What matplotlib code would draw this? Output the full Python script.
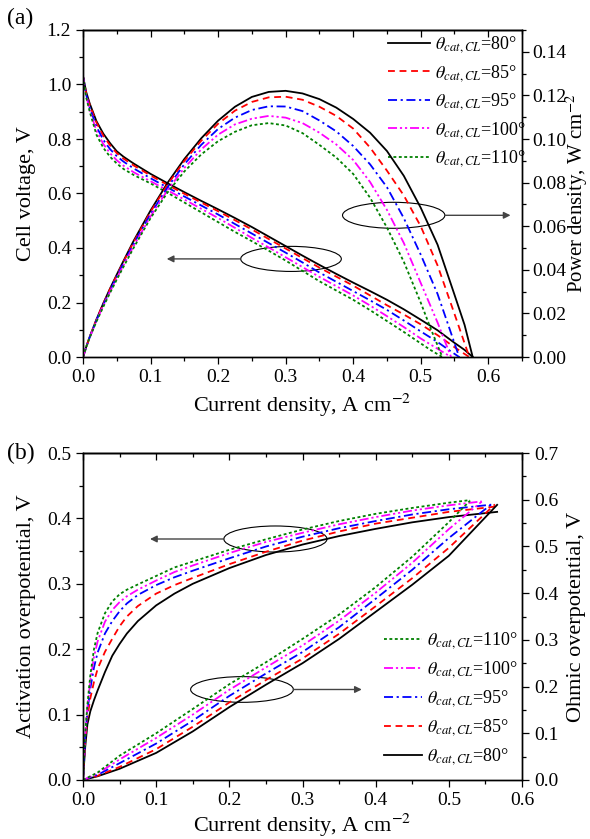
import matplotlib
matplotlib.use('Agg')
import matplotlib.pyplot as plt
from matplotlib.patches import Ellipse
from matplotlib.ticker import MultipleLocator, FormatStrFormatter

plt.rcParams['font.family'] = ['Liberation Serif', 'DejaVu Serif']
plt.rcParams['mathtext.fontset'] = 'stix'
plt.rcParams['axes.linewidth'] = 1.0

# ---------------- panel (a): polarization and power curves ----------------
angles = ['80', '85', '95', '100', '110']

i_a_80 = [0, 0.005, 0.01, 0.02, 0.03, 0.04, 0.05, 0.06, 0.075, 0.1, 0.125, 0.15, 0.175, 0.2, 0.225, 0.25, 0.275, 0.3,
          0.325, 0.35, 0.375, 0.4, 0.425, 0.45, 0.475, 0.5, 0.525, 0.55, 0.565, 0.577]
i_a_85 = [0, 0.005, 0.01, 0.02, 0.03, 0.04, 0.05, 0.06, 0.075, 0.1, 0.125, 0.15, 0.175, 0.2, 0.225, 0.25, 0.275, 0.3,
          0.325, 0.35, 0.375, 0.4, 0.425, 0.45, 0.475, 0.5, 0.525, 0.55, 0.562, 0.572]
i_a_95 = [0, 0.005, 0.01, 0.02, 0.03, 0.04, 0.05, 0.06, 0.075, 0.1, 0.125, 0.15, 0.175, 0.2, 0.225, 0.25, 0.275, 0.3,
          0.325, 0.35, 0.375, 0.4, 0.425, 0.45, 0.475, 0.5, 0.525, 0.545, 0.557]
i_a_100 = [0, 0.005, 0.01, 0.02, 0.03, 0.04, 0.05, 0.06, 0.075, 0.1, 0.125, 0.15, 0.175, 0.2, 0.225, 0.25, 0.275, 0.3,
           0.325, 0.35, 0.375, 0.4, 0.425, 0.45, 0.475, 0.5, 0.525, 0.545]
i_a_110 = [0, 0.005, 0.01, 0.02, 0.03, 0.04, 0.05, 0.06, 0.075, 0.1, 0.125, 0.15, 0.175, 0.2, 0.225, 0.25, 0.275, 0.3,
           0.325, 0.35, 0.375, 0.4, 0.425, 0.45, 0.475, 0.5, 0.515, 0.532]

v_80 = [1.03, 0.97, 0.93, 0.865, 0.82, 0.785, 0.755, 0.735, 0.71, 0.672, 0.638, 0.605, 0.573, 0.542, 0.51, 0.477, 0.442,
        0.407, 0.372, 0.338, 0.305, 0.273, 0.242, 0.210, 0.175, 0.137, 0.098, 0.052, 0.026, 0.0]
v_85 = [1.03, 0.965, 0.925, 0.86, 0.812, 0.777, 0.748, 0.728, 0.703, 0.666, 0.632, 0.599, 0.567, 0.535, 0.502, 0.468,
        0.433, 0.398, 0.363, 0.328, 0.295, 0.262, 0.226, 0.19, 0.156, 0.12, 0.08, 0.036, 0.016, 0.0]
v_95 = [1.03, 0.96, 0.915, 0.845, 0.797, 0.763, 0.737, 0.717, 0.692, 0.656, 0.622, 0.589, 0.556, 0.523, 0.488, 0.453,
        0.418, 0.383, 0.347, 0.31, 0.276, 0.242, 0.208, 0.173, 0.134, 0.094, 0.055, 0.02, 0.0]
v_100 = [1.03, 0.955, 0.905, 0.83, 0.782, 0.748, 0.722, 0.702, 0.678, 0.645, 0.612, 0.578, 0.544, 0.51, 0.474, 0.437,
         0.402, 0.366, 0.33, 0.294, 0.26, 0.226, 0.189, 0.15, 0.11, 0.068, 0.03, 0.0]
v_110 = [1.03, 0.95, 0.90, 0.815, 0.768, 0.735, 0.71, 0.69, 0.668, 0.637, 0.603, 0.567, 0.531, 0.495, 0.459, 0.425,
         0.39, 0.354, 0.316, 0.278, 0.244, 0.21, 0.172, 0.132, 0.092, 0.05, 0.025, 0.0]

p_80 = [0, 0.00485, 0.0093, 0.0173, 0.0246, 0.0314, 0.0378, 0.0441, 0.0533, 0.0672, 0.0798, 0.0908, 0.1003, 0.1084,
        0.1148, 0.1193, 0.1216, 0.1221, 0.1209, 0.1183, 0.1144, 0.1092, 0.1029, 0.0945, 0.0831, 0.0685, 0.0515, 0.0286,
        0.0147, 0]
p_85 = [0, 0.00483, 0.00925, 0.0172, 0.0244, 0.0311, 0.0374, 0.0437, 0.0527, 0.0666, 0.079, 0.0899, 0.0992, 0.107,
        0.113, 0.117, 0.1191, 0.1194, 0.118, 0.1148, 0.1106, 0.1048, 0.0961, 0.0855, 0.0741, 0.06, 0.042, 0.0198,
        0.009, 0]
p_95 = [0, 0.0048, 0.00915, 0.0169, 0.0239, 0.0305, 0.0369, 0.043, 0.0519, 0.0656, 0.0778, 0.0884, 0.0973, 0.1046,
        0.1098, 0.1133, 0.115, 0.1149, 0.1128, 0.1085, 0.1035, 0.0968, 0.0884, 0.0779, 0.0637, 0.047, 0.0289, 0.0109, 0]
p_100 = [0, 0.00478, 0.00905, 0.0166, 0.0235, 0.0299, 0.0361, 0.0421, 0.0509, 0.0645, 0.0765, 0.0867, 0.0952, 0.102,
         0.1067, 0.1093, 0.1106, 0.1098, 0.1073, 0.1029, 0.0975, 0.0904, 0.0803, 0.0675, 0.0523, 0.034, 0.0158, 0]
p_110 = [0, 0.00475, 0.009, 0.0163, 0.023, 0.0294, 0.0355, 0.0414, 0.0501, 0.0637, 0.0754, 0.0851, 0.0929, 0.099,
         0.1033, 0.1063, 0.1073, 0.1062, 0.1027, 0.0973, 0.0915, 0.084, 0.0731, 0.0594, 0.0437, 0.025, 0.0129, 0]

# ---------------- panel (b): activation and ohmic overpotentials ----------------
i_b_80 = [0, 0.003, 0.006, 0.01, 0.015, 0.02, 0.03, 0.04, 0.05, 0.06, 0.075, 0.1, 0.125, 0.15, 0.2, 0.25, 0.3, 0.35, 0.4, 0.45, 0.5, 0.566]
i_b_85 = [0, 0.003, 0.006, 0.01, 0.015, 0.02, 0.03, 0.04, 0.05, 0.06, 0.075, 0.1, 0.125, 0.15, 0.2, 0.25, 0.3, 0.35, 0.4, 0.45, 0.5, 0.563]
i_b_95 = [0, 0.003, 0.006, 0.01, 0.015, 0.02, 0.03, 0.04, 0.05, 0.06, 0.075, 0.1, 0.125, 0.15, 0.2, 0.25, 0.3, 0.35, 0.4, 0.45, 0.5, 0.558]
i_b_100 = [0, 0.003, 0.006, 0.01, 0.015, 0.02, 0.03, 0.04, 0.05, 0.06, 0.075, 0.1, 0.125, 0.15, 0.2, 0.25, 0.3, 0.35, 0.4, 0.45, 0.5, 0.545]
i_b_110 = [0, 0.003, 0.006, 0.01, 0.015, 0.02, 0.03, 0.04, 0.05, 0.06, 0.075, 0.1, 0.125, 0.15, 0.2, 0.25, 0.3, 0.35, 0.4, 0.45, 0.5, 0.529]

act_80 = [0, 0.05, 0.085, 0.105, 0.122, 0.137, 0.165, 0.19, 0.208, 0.224, 0.243, 0.267, 0.285, 0.3, 0.324, 0.344, 0.36, 0.373, 0.384, 0.394, 0.402, 0.41]
act_85 = [0, 0.06, 0.095, 0.125, 0.15, 0.17, 0.196, 0.216, 0.235, 0.25, 0.266, 0.285, 0.298, 0.309, 0.33, 0.349, 0.366, 0.38, 0.392, 0.401, 0.41, 0.418]
act_95 = [0, 0.065, 0.105, 0.14, 0.172, 0.195, 0.224, 0.243, 0.258, 0.27, 0.283, 0.298, 0.31, 0.32, 0.339, 0.357, 0.372, 0.385, 0.396, 0.406, 0.414, 0.421]
act_100 = [0, 0.068, 0.11, 0.152, 0.188, 0.212, 0.242, 0.26, 0.272, 0.281, 0.291, 0.305, 0.318, 0.328, 0.347, 0.364, 0.378, 0.391, 0.402, 0.412, 0.42, 0.426]
act_110 = [0, 0.07, 0.115, 0.16, 0.2, 0.225, 0.255, 0.273, 0.284, 0.291, 0.299, 0.312, 0.325, 0.334, 0.352, 0.368, 0.383, 0.396, 0.407, 0.416, 0.424, 0.428]

io_80 = [0, 0.02, 0.05, 0.1, 0.15, 0.2, 0.25, 0.3, 0.35, 0.4, 0.45, 0.5, 0.566]
io_85 = [0, 0.02, 0.05, 0.1, 0.15, 0.2, 0.25, 0.3, 0.35, 0.4, 0.45, 0.5, 0.563]
io_95 = [0, 0.02, 0.05, 0.1, 0.15, 0.2, 0.25, 0.3, 0.35, 0.4, 0.45, 0.5, 0.558]
io_100 = [0, 0.02, 0.05, 0.1, 0.15, 0.2, 0.25, 0.3, 0.35, 0.4, 0.45, 0.5, 0.545]
io_110 = [0, 0.02, 0.05, 0.1, 0.15, 0.2, 0.25, 0.3, 0.35, 0.4, 0.45, 0.5, 0.529]

ohm_80 = [0, 0.008, 0.024, 0.058, 0.104, 0.156, 0.204, 0.25, 0.302, 0.36, 0.418, 0.48, 0.589]
ohm_85 = [0, 0.009, 0.028, 0.066, 0.114, 0.166, 0.214, 0.26, 0.313, 0.372, 0.432, 0.497, 0.59]
ohm_95 = [0, 0.011, 0.036, 0.078, 0.127, 0.18, 0.228, 0.274, 0.327, 0.388, 0.45, 0.518, 0.59]
ohm_100 = [0, 0.014, 0.044, 0.09, 0.14, 0.193, 0.241, 0.288, 0.341, 0.401, 0.465, 0.537, 0.596]
ohm_110 = [0, 0.016, 0.052, 0.1, 0.152, 0.205, 0.252, 0.302, 0.354, 0.413, 0.478, 0.552, 0.598]

colors = {'80': 'black', '85': '#ff0000', '95': '#0000ff', '100': '#ff00ff', '110': '#008000'}
dashes = {'80': '-', '85': (0, (3.8, 2.6)), '95': (0, (5, 2, 1.2, 2)),
          '100': (0, (5, 1.6, 1.2, 1.6, 1.2, 1.6)), '110': (0, (1.6, 1.4))}
LW = 1.3

pol = {'80': (i_a_80, v_80, p_80), '85': (i_a_85, v_85, p_85), '95': (i_a_95, v_95, p_95),
       '100': (i_a_100, v_100, p_100), '110': (i_a_110, v_110, p_110)}
over = {'80': (i_b_80, act_80, io_80, ohm_80), '85': (i_b_85, act_85, io_85, ohm_85),
        '95': (i_b_95, act_95, io_95, ohm_95), '100': (i_b_100, act_100, io_100, ohm_100),
        '110': (i_b_110, act_110, io_110, ohm_110)}


def lab(a):
    return r'$\theta_{cat,CL}$=' + a + '\u00b0'


def style_axes(ax, ax2, rpad=3.5):
    ax.tick_params(which='both', direction='out', labelsize=14, top=False, right=False)
    ax.tick_params(which='major', length=5, width=0.9)
    ax.tick_params(which='minor', length=3, width=0.9)
    ax2.tick_params(which='both', direction='out', labelsize=14, pad=rpad)
    ax2.tick_params(which='major', length=5, width=0.9)
    ax2.tick_params(which='minor', length=3, width=0.9)
    sec = ax.secondary_xaxis('top')
    sec.xaxis.set_major_locator(MultipleLocator(0.1))
    sec.xaxis.set_minor_locator(MultipleLocator(0.05))
    sec.tick_params(which='both', direction='in', labeltop=False)
    sec.tick_params(which='major', length=5, width=0.9)
    sec.tick_params(which='minor', length=3, width=0.9)


def arrow(ax, x0, x1, y):
    ax.annotate('', xy=(x1, y), xytext=(x0, y),
                arrowprops=dict(arrowstyle='-|>', color='#444444', lw=1.0,
                                shrinkA=0, shrinkB=0, mutation_scale=10))


fig = plt.figure(figsize=(5.9, 8.39), dpi=100)

# ---- (a)
ax1 = fig.add_axes([83 / 590, 1 - 357 / 839, 439 / 590, 327 / 839])
ax2 = ax1.twinx()
handles = {}
for a in angles:
    i, v, p = pol[a]
    handles[a], = ax1.plot(i, v, color=colors[a], ls=dashes[a], lw=LW)
    ax2.plot(i, p, color=colors[a], ls=dashes[a], lw=LW)

ax1.set_xlim(0, 0.65)
ax1.set_ylim(0, 1.2)
ax2.set_ylim(0, 0.15)
ax1.xaxis.set_major_locator(MultipleLocator(0.1))
ax1.xaxis.set_minor_locator(MultipleLocator(0.05))
ax1.yaxis.set_major_locator(MultipleLocator(0.2))
ax1.yaxis.set_minor_locator(MultipleLocator(0.1))
ax2.yaxis.set_major_locator(MultipleLocator(0.02))
ax2.yaxis.set_minor_locator(MultipleLocator(0.01))
ax1.xaxis.set_major_formatter(FormatStrFormatter('%.1f'))
ax1.yaxis.set_major_formatter(FormatStrFormatter('%.1f'))
ax2.yaxis.set_major_formatter(FormatStrFormatter('%.2f'))
style_axes(ax1, ax2, rpad=2.5)
ax1.set_xlabel(r'Current density, A cm$^{-2}$', fontsize=16, labelpad=4)
ax1.set_ylabel('Cell voltage, V', fontsize=16, labelpad=8)
ax2.set_ylabel(r'Power density, W cm$^{-2}$', fontsize=15, labelpad=-2.5)

ax1.add_patch(Ellipse((0.308, 0.36), 0.149, 0.092, fill=False, ec='black', lw=0.8))
arrow(ax1, 0.2335, 0.124, 0.36)
ax1.add_patch(Ellipse((0.460, 0.52), 0.1515, 0.0954, fill=False, ec='black', lw=0.8))
arrow(ax1, 0.5357, 0.633, 0.52)

ax1.legend([handles[a] for a in angles], [lab(a) for a in angles], loc='upper right',
           bbox_to_anchor=(1.034, 1.02), frameon=False, fontsize=13, handlelength=2.3,
           handletextpad=0.3, labelspacing=0.42, borderaxespad=0.2)

# ---- (b)
ax3 = fig.add_axes([83 / 590, 1 - 780 / 839, 439 / 590, 327 / 839])
ax4 = ax3.twinx()
handles_b = {}
for a in angles:
    i, act, io, ohm = over[a]
    handles_b[a], = ax3.plot(i, act, color=colors[a], ls=dashes[a], lw=LW)
    ax4.plot(io, ohm, color=colors[a], ls=dashes[a], lw=LW)

ax3.set_xlim(0, 0.6)
ax3.set_ylim(0, 0.5)
ax4.set_ylim(0, 0.7)
ax3.xaxis.set_major_locator(MultipleLocator(0.1))
ax3.xaxis.set_minor_locator(MultipleLocator(0.05))
ax3.yaxis.set_major_locator(MultipleLocator(0.1))
ax3.yaxis.set_minor_locator(MultipleLocator(0.05))
ax4.yaxis.set_major_locator(MultipleLocator(0.1))
ax4.yaxis.set_minor_locator(MultipleLocator(0.05))
for axx in (ax3.xaxis, ax3.yaxis, ax4.yaxis):
    axx.set_major_formatter(FormatStrFormatter('%.1f'))
style_axes(ax3, ax4)
ax3.set_xlabel(r'Current density, A cm$^{-2}$', fontsize=16, labelpad=2)
ax3.set_ylabel('Activation overpotential, V', fontsize=16, labelpad=8)
ax4.set_ylabel('Ohmic overpotential, V', fontsize=16, labelpad=6)

ax3.add_patch(Ellipse((0.263, 0.3685), 0.141, 0.0398, fill=False, ec='black', lw=0.8))
arrow(ax3, 0.1925, 0.0916, 0.3685)
ax3.add_patch(Ellipse((0.2173, 0.1384), 0.1404, 0.0393, fill=False, ec='black', lw=0.8))
arrow(ax3, 0.2875, 0.381, 0.1384)

order_b = ['110', '100', '95', '85', '80']
ax3.legend([handles_b[a] for a in order_b], [lab(a) for a in order_b], loc='lower right',
           bbox_to_anchor=(1.02, 0.0), frameon=False, fontsize=13, handlelength=2.1,
           handletextpad=0.3, labelspacing=0.45, borderaxespad=0.3)

fig.text(7 / 590, 1 - 8 / 839, '(a)', fontsize=17, va='top', ha='left')
fig.text(7 / 590, 1 - 443 / 839, '(b)', fontsize=17, va='top', ha='left')

fig.savefig('out.png', dpi=100)
